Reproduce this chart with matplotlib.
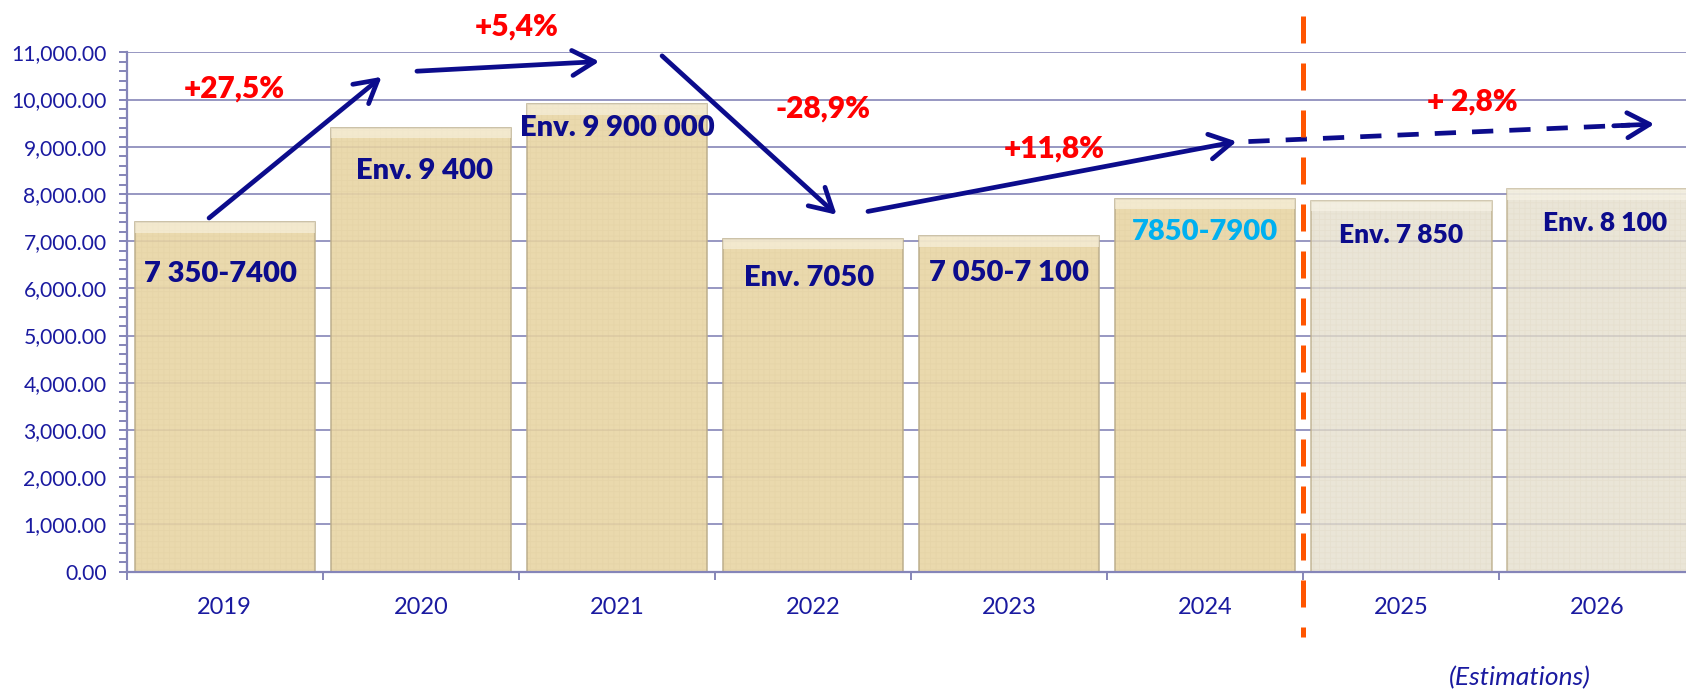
import numpy as np
import matplotlib.pyplot as plt
from matplotlib.patches import FancyArrowPatch
from matplotlib.ticker import MultipleLocator, FuncFormatter

plt.rcParams['font.family'] = ['Lato', 'DejaVu Sans']
plt.rcParams['hatch.linewidth'] = 0.6

# data
years = ['2019', '2020', '2021', '2022', '2023', '2024', '2025', '2026']
values = [7400, 9400, 9900, 7050, 7100, 7900, 7850, 8100]
estimate = [False, False, False, False, False, False, True, True]

bar_labels = ['7 350-7400', 'Env. 9 400', 'Env. 9 900 000', 'Env. 7050',
              '7 050-7 100', '7850-7900', 'Env. 7 850', 'Env. 8 100']
label_x = [-0.02, 1.02, 2.0, 2.98, 4.0, 5.0, 6.0, 7.04]
label_y = [6300, 8490, 9400, 6210, 6330, 7190, 7130, 7380]

pct_labels = ['+27,5%', '+5,4%', '-28,9%', '+11,8%', '+ 2,8%']
pct_x = [0.05, 1.49, 3.05, 4.23, 6.36]
pct_y = [10240, 11540, 9810, 8970, 9950]

# arrows: (x0, y0, x1, y1)
arrows = [(-0.08, 7490, 0.80, 10480),
          (0.98, 10600, 1.91, 10805),
          (2.23, 10925, 3.12, 7560),
          (3.28, 7630, 5.16, 9110)]
trend = (5.22, 9110, 7.29, 9480)

navy = '#0c0c8c'
axis_blue = '#1a1aa0'
gridc = '#8585b8'

fig = plt.figure(figsize=(16.86, 6.91), dpi=100)
ax = fig.add_axes([0.07515, 0.1727, 0.9305, 0.7516])

x = np.arange(len(years))
face = ['#e5dfcd' if e else '#e8d5a4' for e in estimate]
alph = [0.8 if e else 0.9 for e in estimate]
for xi, v, fc, a in zip(x, values, face, alph):
    ax.bar(xi, v, width=0.92, color=fc, alpha=a, edgecolor='#bcae8c', lw=1.2, zorder=2)
    # light linen texture
    ax.bar(xi, v, width=0.92, facecolor='none', edgecolor=(0.70, 0.62, 0.42, 0.07),
           hatch='+++', lw=0, zorder=2)
    # bevel at the top
    ax.bar(xi, 220, bottom=v - 220, width=0.92, color='#fbf7ea', alpha=0.55, lw=0, zorder=2)

ax.set_xlim(-0.5, 7.5)
ax.set_ylim(0, 11000)

# grid / spines
ax.set_axisbelow(True)
ax.yaxis.grid(True, which='major', color=gridc, lw=1.2)
for s in ['top', 'right']:
    ax.spines[s].set_visible(False)
for s in ['left', 'bottom']:
    ax.spines[s].set_color(gridc)
    ax.spines[s].set_linewidth(1.6)

ax.yaxis.set_major_locator(MultipleLocator(1000))
ax.yaxis.set_minor_locator(MultipleLocator(200))
ax.yaxis.set_major_formatter(FuncFormatter(lambda v, p: '{:,.2f}'.format(v)))
ax.tick_params(axis='y', which='both', length=5.5, width=1.4, color=gridc, direction='out',
               labelsize=15.2, labelcolor=axis_blue, pad=9)

ax.set_xticks(np.arange(-0.5, 8, 1))
ax.set_xticklabels([])
ax.set_xticks(x, minor=True)
ax.set_xticklabels(years, minor=True)
ax.tick_params(axis='x', which='major', length=5.5, width=1.4, color=gridc, direction='out')
ax.tick_params(axis='x', which='minor', length=0, labelsize=17, labelcolor=axis_blue, pad=18)

# labels on bars
for i, (lx, ly, t) in enumerate(zip(label_x, label_y, bar_labels)):
    col = '#00b0f0' if years[i] == '2024' else navy
    fs = 19 if estimate[i] else 21
    ax.text(lx, ly, t, ha='center', va='center', fontsize=fs, fontweight='heavy', color=col, zorder=7)

for px, py, t in zip(pct_x, pct_y, pct_labels):
    ax.text(px, py, t, ha='center', va='center', fontsize=21.5, fontweight='heavy', color='#ff0000', zorder=7)

# arrows
for x0, y0, x1, y1 in arrows:
    ax.add_patch(FancyArrowPatch((x0, y0), (x1, y1), arrowstyle='->,head_length=0.8,head_width=0.45',
                                 mutation_scale=20, lw=3.4, color=navy, shrinkA=0, shrinkB=0,
                                 zorder=6, clip_on=False))

tx0, ty0, tx1, ty1 = trend
frac = 0.94
ax.plot([tx0, tx0 + frac * (tx1 - tx0)], [ty0, ty0 + frac * (ty1 - ty0)], color=navy, lw=3.4,
        ls=(0, (4.5, 3.4)), zorder=6, clip_on=False)
ax.add_patch(FancyArrowPatch((tx0 + 0.9 * (tx1 - tx0), ty0 + 0.9 * (ty1 - ty0)), (tx1, ty1),
                             arrowstyle='->,head_length=0.8,head_width=0.45', mutation_scale=20,
                             lw=3.4, color=navy, shrinkA=0, shrinkB=0, zorder=6, clip_on=False))

# separation real / estimated
ax.plot([5.5, 5.5], [11770, -1380], color='#ff5500', lw=3.6, ls=(0, (5.4, 4.0)),
        zorder=8, clip_on=False)

fig.text(0.9015, 0.0195, '(Estimations)', ha='center', va='center', fontsize=19,
         style='italic', color=axis_blue)

fig.savefig('out.png', dpi=100)
